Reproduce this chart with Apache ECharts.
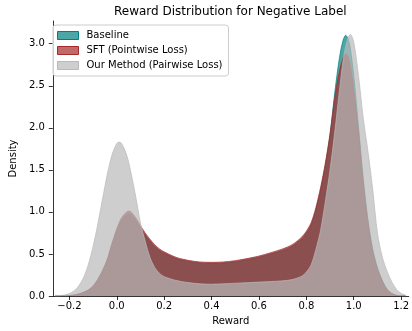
<!DOCTYPE html>
<html>
<head>
<meta charset="utf-8">
<script src="https://cdn.jsdelivr.net/npm/echarts@6/dist/echarts.min.js"></script>
<style>html,body{margin:0;padding:0;background:#fff}#c{width:412px;height:331px}</style>
</head>
<body>
<div id="c"></div>
<script>
const xs = [-0.26,-0.24,-0.22,-0.20,-0.18,-0.16,-0.14,-0.12,-0.10,-0.08,-0.06,-0.04,-0.02,0.00,0.01,0.02,0.04,0.05,0.06,0.08,0.10,0.12,0.14,0.16,0.18,0.20,0.25,0.30,0.35,0.40,0.45,0.50,0.55,0.60,0.65,0.70,0.74,0.78,0.80,0.82,0.84,0.86,0.88,0.90,0.92,0.94,0.955,0.966,0.976,0.986,1.00,1.02,1.04,1.06,1.08,1.10,1.12,1.14,1.16,1.18,1.20,1.22];
const baseline = [0,0.001,0.002,0.005,0.011,0.024,0.043,0.07,0.116,0.194,0.296,0.427,0.61,0.776,0.845,0.90,0.965,0.98,0.97,0.90,0.81,0.728,0.655,0.592,0.543,0.51,0.446,0.412,0.393,0.388,0.393,0.407,0.432,0.461,0.50,0.543,0.592,0.68,0.747,0.845,1.02,1.26,1.55,1.92,2.42,2.84,3.04,3.10,3.06,2.94,2.62,2.02,1.40,0.91,0.56,0.34,0.19,0.085,0.032,0.009,0.002,0];
const sft = [0,0.001,0.002,0.005,0.012,0.025,0.045,0.072,0.12,0.20,0.305,0.44,0.63,0.80,0.87,0.93,0.995,1.01,1.0,0.93,0.835,0.75,0.675,0.61,0.56,0.525,0.46,0.425,0.405,0.40,0.405,0.42,0.445,0.475,0.515,0.56,0.61,0.70,0.77,0.87,1.05,1.29,1.58,1.93,2.36,2.68,2.83,2.88,2.84,2.73,2.45,1.95,1.35,0.87,0.53,0.32,0.18,0.08,0.03,0.008,0.002,0];
const ours = [0.002,0.005,0.013,0.03,0.062,0.122,0.22,0.375,0.59,0.856,1.155,1.447,1.68,1.813,1.83,1.815,1.69,1.59,1.465,1.18,0.87,0.65,0.46,0.34,0.27,0.23,0.185,0.16,0.145,0.14,0.145,0.152,0.158,0.165,0.172,0.18,0.195,0.235,0.285,0.37,0.55,0.78,1.12,1.50,1.95,2.45,2.80,2.97,3.07,3.11,3.02,2.62,2.12,1.72,1.27,0.75,0.47,0.30,0.17,0.08,0.03,0.01];
const seriesNames = ['Baseline','SFT (Pointwise Loss)','Our Method (Pairwise Loss)'];
const xTicks = [-0.2,0.0,0.2,0.4,0.6,0.8,1.0,1.2];
const yTicks = [0.0,0.5,1.0,1.5,2.0,2.5,3.0];

const colors = ['rgb(0,128,128)','rgb(165,42,42)','rgb(185,185,185)'];
const swatch = ['rgba(0,128,128,0.7)','rgba(165,42,42,0.7)','rgba(185,185,185,0.7)'];
const FONT = 'DejaVu Sans';
const pairs = arr => xs.map((x,i)=>[x,arr[i]]);
const fmt = v => (v<0?'\u2212':'') + Math.abs(v).toFixed(1);

const mk = (name, arr, k) => ({
  name: name, type: 'line', data: pairs(arr), smooth: 0.3, showSymbol: false,
  symbol: 'none',
  lineStyle: {color: colors[k], width: 1, opacity: 0.7},
  itemStyle: {color: colors[k]},
  areaStyle: {color: colors[k], opacity: 0.7},
  z: 2 + k
});

const chart = echarts.init(document.getElementById('c'), null, {renderer: 'canvas'});
chart.setOption({
  animation: false,
  textStyle: {fontFamily: FONT},
  title: {
    text: 'Reward Distribution for Negative Label',
    left: 114, top: 6, padding: 0,
    textStyle: {fontFamily: FONT, fontSize: 12, fontWeight: 'normal', color: '#000'}
  },
  legend: {
    orient: 'vertical', left: 53, top: 25,
    padding: [4,6,4,4], itemGap: 2, itemWidth: 21, itemHeight: 8,
    borderColor: '#cccccc', borderWidth: 1, borderRadius: 3,
    backgroundColor: 'rgba(255,255,255,0.8)',
    textStyle: {fontFamily: FONT, fontSize: 10, color: '#000', lineHeight: 13, padding: [0,0,0,3]},
    data: seriesNames.map((n,k)=>({
      name: n, icon: 'rect',
      itemStyle: {color: swatch[k], borderColor: colors[k], borderWidth: 1, opacity: 1}
    }))
  },
  grid: {left: 49, right: 1, top: 21, bottom: 34, containLabel: false},
  xAxis: {
    type: 'value', min: -0.27, max: 1.232,
    name: 'Reward', nameLocation: 'middle', nameGap: 20,
    nameTextStyle: {fontFamily: FONT, fontSize: 10, color: '#000'},
    axisLine: {show: true, onZero: false, lineStyle: {color: '#000', width: 0.8}},
    axisTick: {show: true, length: 4, lineStyle: {color: '#000', width: 0.8}, customValues: xTicks},
    axisLabel: {fontFamily: FONT, fontSize: 10, color: '#000', margin: 5, customValues: xTicks, formatter: fmt},
    splitLine: {show: false}
  },
  yAxis: {
    type: 'value', min: 0, max: 3.27,
    name: 'Density', nameLocation: 'middle', nameGap: 27,
    nameTextStyle: {fontFamily: FONT, fontSize: 10, color: '#000'},
    axisLine: {show: true, onZero: false, lineStyle: {color: '#000', width: 0.8}},
    axisTick: {show: true, length: 4, lineStyle: {color: '#000', width: 0.8}, customValues: yTicks},
    axisLabel: {fontFamily: FONT, fontSize: 10, color: '#000', margin: 8, customValues: yTicks, formatter: fmt},
    splitLine: {show: false}
  },
  series: [mk(seriesNames[0], baseline, 0), mk(seriesNames[1], sft, 1), mk(seriesNames[2], ours, 2)]
});
</script>
</body>
</html>
